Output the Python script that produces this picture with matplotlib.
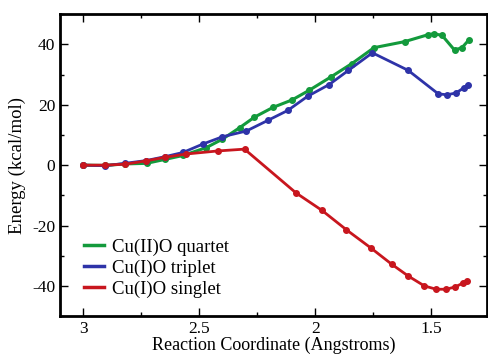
import matplotlib.pyplot as plt
from matplotlib.ticker import MultipleLocator
from matplotlib.lines import Line2D

plt.rcParams['font.family'] = ['Liberation Serif', 'DejaVu Serif']
plt.rcParams['axes.unicode_minus'] = False

# Cu(II)O quartet
quartet_x = [3.0, 2.906, 2.82, 2.727, 2.648, 2.57, 2.47, 2.40, 2.326, 2.262, 2.183,
             2.10, 2.026, 1.933, 1.843, 1.747, 1.615, 1.514, 1.49, 1.454, 1.40, 1.368, 1.339]
quartet_y = [0.0, -0.1, 0.4, 0.6, 1.9, 3.2, 5.8, 8.6, 12.4, 15.9, 19.1,
             21.6, 24.8, 29.2, 33.6, 38.9, 40.9, 43.2, 43.5, 43.0, 38.1, 38.9, 41.4]

# Cu(I)O triplet
triplet_x = [3.0, 2.906, 2.82, 2.73, 2.648, 2.57, 2.484, 2.40, 2.297, 2.205, 2.119,
             2.033, 1.94, 1.857, 1.754, 1.60, 1.47, 1.432, 1.394, 1.36, 1.342]
triplet_y = [0.0, -0.2, 0.6, 1.5, 2.8, 4.2, 7.0, 9.4, 11.3, 14.8, 18.1,
             22.8, 26.7, 31.4, 37.2, 31.4, 23.6, 23.3, 23.9, 25.6, 26.7]

# Cu(I)O singlet
singlet_x = [3.0, 2.906, 2.82, 2.73, 2.648, 2.555, 2.42, 2.305, 2.083,
             1.971, 1.866, 1.761, 1.671, 1.60, 1.53, 1.479, 1.436, 1.396, 1.365, 1.346]
singlet_y = [0.0, 0.0, 0.3, 1.4, 2.6, 3.7, 4.7, 5.3, -9.2,
             -15.0, -21.4, -27.4, -32.8, -36.7, -40.0, -41.1, -41.1, -40.3, -39.1, -38.3]

labels = ['Cu(II)O quartet', 'Cu(I)O triplet', 'Cu(I)O singlet']
green = '#139a3c'
blue = '#2e33a8'
red = '#c8161e'

fig = plt.figure(figsize=(4.88, 3.54), dpi=100)
ax = fig.add_axes([0.123, 0.107, 0.875, 0.853])

ax.plot(quartet_x, quartet_y, color=green, lw=2.2, marker='o', ms=4)
ax.plot(triplet_x, triplet_y, color=blue, lw=2.0, marker='o', ms=4)
ax.plot(singlet_x, singlet_y, color=red, lw=2.0, marker='o', ms=4)

ax.set_xlim(3.1, 1.26)
ax.set_ylim(-50, 50)
ax.xaxis.set_minor_locator(MultipleLocator(0.25))
ax.yaxis.set_major_locator(MultipleLocator(20))
ax.yaxis.set_minor_locator(MultipleLocator(10))
ax.set_xticks([3, 2.5, 2, 1.5])
ax.set_xticklabels(['3', '2.5', '2', '1.5'])
ax.tick_params(which='both', direction='in', top=True, right=True, labelsize=12.5)
ax.tick_params(which='major', length=6, width=1)
ax.tick_params(which='minor', length=3, width=1)
for s in ax.spines.values():
    s.set_linewidth(2)

ax.set_xlabel('Reaction Coordinate (Angstroms)', fontsize=13, labelpad=0)
ax.set_ylabel('Energy (kcal/mol)', fontsize=13.5, labelpad=4)

handles = [Line2D([], [], color=c, lw=2.5) for c in (green, blue, red)]
ax.legend(handles, labels, loc='lower left', frameon=False, fontsize=13.5,
          handlelength=1.1, handletextpad=0.4, labelspacing=0.2,
          bbox_to_anchor=(0.016, 0.005))

fig.savefig('out.png', dpi=100)
